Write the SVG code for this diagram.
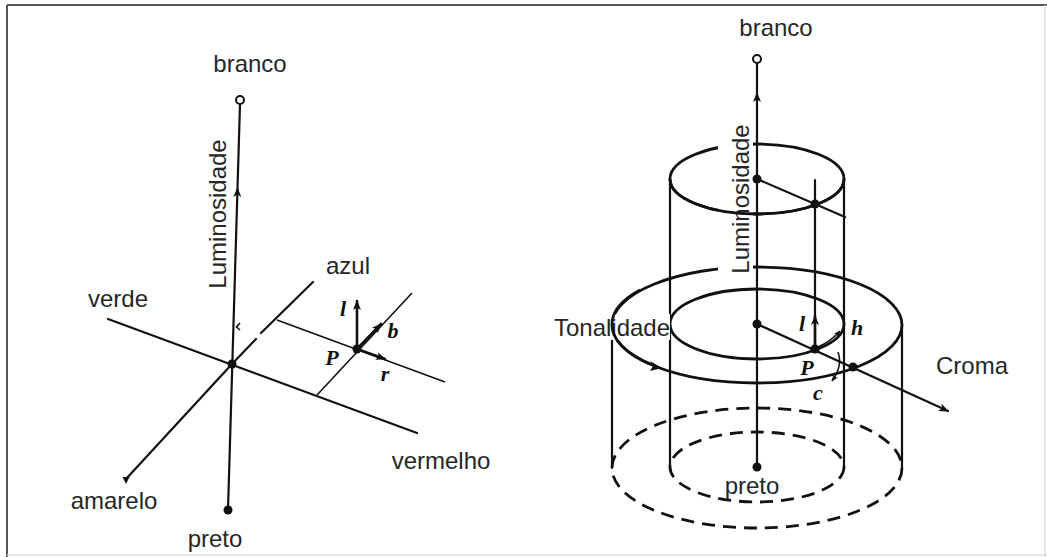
<svg xmlns="http://www.w3.org/2000/svg" width="1047" height="557" viewBox="0 0 1047 557">
<defs>
<style>
.ln{fill:none;stroke:#111;stroke-width:2.2;stroke-linecap:round}
.el{fill:none;stroke:#111;stroke-width:2.8}
.ds{fill:none;stroke:#111;stroke-width:2.8;stroke-dasharray:13 8}
.th{fill:none;stroke:#111;stroke-width:1.6}
.ar{fill:none;stroke:#111;stroke-width:2.6;stroke-linecap:round}
.dot{fill:#111}
.t{font-family:"Liberation Sans",Arial,sans-serif;font-size:24px;fill:#262626}
.v{font-family:"Liberation Serif","Times New Roman",serif;font-style:italic;font-weight:bold;font-size:22px;fill:#111}
</style>
<marker id="ah" viewBox="0 0 10 8" refX="5" refY="4" markerWidth="10" markerHeight="8" markerUnits="userSpaceOnUse" orient="auto"><path d="M0,0 L10,4 L0,8 L2.5,4 Z" fill="#111"/></marker>
<marker id="ae" viewBox="0 0 10 8" refX="9" refY="4" markerWidth="10" markerHeight="8" markerUnits="userSpaceOnUse" orient="auto"><path d="M0,0 L10,4 L0,8 L2.5,4 Z" fill="#111"/></marker>
<marker id="as" viewBox="0 0 10 8" refX="9" refY="4" markerWidth="7" markerHeight="6" markerUnits="userSpaceOnUse" orient="auto"><path d="M0,0 L10,4 L0,8 L2.5,4 Z" fill="#111"/></marker>
</defs>
<rect width="1047" height="557" fill="#fff"/>
<g id="frame">
<line x1="7" y1="5" x2="1047" y2="5" stroke="#555" stroke-width="2"/>
<line x1="7" y1="5" x2="7" y2="557" stroke="#555" stroke-width="2"/>
<line x1="1045" y1="5" x2="1045" y2="557" stroke="#ddd" stroke-width="1.5"/>
<line x1="7" y1="555" x2="1047" y2="555" stroke="#ddd" stroke-width="1.5"/>
</g>

<g id="left-connectors">
<path class="ln" d="M228,510 L237.4,192 L240,104" marker-mid="url(#ah)"/>
<line class="ln" x1="108" y1="319" x2="417" y2="433"/>
<path class="ln" d="M232,364 L256,339 M261,333 L313,282"/>
<line class="ln" x1="232" y1="364" x2="126" y2="479"/>
<path d="M122.5,477 L129.5,477 L126,484 Z" class="dot"/>
<line class="th" x1="277" y1="320" x2="445" y2="382"/>
<line class="th" x1="317" y1="395" x2="412" y2="293"/>
<path class="th" d="M240,323 L236.5,327 L240,330"/>
<line class="ar" x1="357" y1="349" x2="357" y2="301" marker-end="url(#ae)"/>
<line class="ar" x1="357" y1="349" x2="381" y2="324" marker-end="url(#ae)"/>
<line class="ar" x1="357" y1="349" x2="385" y2="359" marker-end="url(#ae)"/>
</g>
<g id="left-points">
<circle cx="240" cy="100" r="4" fill="#fff" stroke="#111" stroke-width="2"/>
<circle class="dot" cx="232" cy="364" r="4.5"/>
<circle class="dot" cx="228" cy="510" r="4.5"/>
<circle class="dot" cx="357" cy="349" r="4.5"/>
</g>
<g id="left-labels">
<text class="t" x="250" y="63" text-anchor="middle" dominant-baseline="central">branco</text>
<text class="t" transform="translate(217,214) rotate(-90)" text-anchor="middle" dominant-baseline="central">Luminosidade</text>
<text class="t" x="118" y="298" text-anchor="middle" dominant-baseline="central">verde</text>
<text class="t" x="348" y="265" text-anchor="middle" dominant-baseline="central">azul</text>
<text class="t" x="441" y="460" text-anchor="middle" dominant-baseline="central">vermelho</text>
<text class="t" x="114" y="500" text-anchor="middle" dominant-baseline="central">amarelo</text>
<text class="t" x="215" y="538" text-anchor="middle" dominant-baseline="central">preto</text>
<text class="v" x="332" y="357" text-anchor="middle" dominant-baseline="central">P</text>
<text class="v" x="343" y="308" text-anchor="middle" dominant-baseline="central">l</text>
<text class="v" x="393" y="330" text-anchor="middle" dominant-baseline="central">b</text>
<text class="v" x="385" y="373" text-anchor="middle" dominant-baseline="central">r</text>
</g>

<g id="right-cylinders">
<ellipse class="ds" cx="757" cy="468" rx="145" ry="60"/>
<ellipse class="ds" cx="757" cy="467" rx="87" ry="35"/>
<line class="ln" x1="612" y1="325" x2="612" y2="468"/>
<line class="ln" x1="902" y1="325" x2="902" y2="468"/>
<line class="ln" x1="670" y1="179" x2="670" y2="467"/>
<line class="ln" x1="844" y1="179" x2="844" y2="467"/>
<ellipse class="el" cx="757" cy="324" rx="87" ry="35"/>
<ellipse class="el" cx="757" cy="325" rx="145" ry="58"/>
<ellipse class="el" cx="757" cy="179" rx="87" ry="35"/>
</g>
<g id="right-masks">
<rect x="718" y="118" width="35" height="163" fill="#fff"/>
<rect x="551" y="314" width="119" height="26" fill="#fff"/>
</g>
<g id="right-labels">
<text class="t" x="776" y="27" text-anchor="middle" dominant-baseline="central">branco</text>
<text class="t" transform="translate(740,199) rotate(-90)" text-anchor="middle" dominant-baseline="central">Luminosidade</text>
<text class="t" x="612" y="327" text-anchor="middle" dominant-baseline="central">Tonalidade</text>
<text class="t" x="752" y="485" text-anchor="middle" dominant-baseline="central">preto</text>
<text class="t" x="972" y="365" text-anchor="middle" dominant-baseline="central">Croma</text>
<text class="v" x="807" y="367" text-anchor="middle" dominant-baseline="central">P</text>
<text class="v" x="802" y="323" text-anchor="middle" dominant-baseline="central">l</text>
<text class="v" x="857" y="327" text-anchor="middle" dominant-baseline="central">h</text>
<text class="v" x="818" y="392" text-anchor="middle" dominant-baseline="central">c</text>
</g>
<g id="right-connectors">
<path class="el" d="M670,179 A87,35 0 0 0 844,179"/>
<path class="el" d="M612,325 A145,58 0 0 0 650,364"/>
<path class="el" d="M612,325 A145,58 0 0 1 640,290"/>
<path class="ln" d="M757,467 L757,97 L757,63" marker-mid="url(#ah)"/>
<line class="ln" x1="757" y1="179" x2="845" y2="217"/>
<line class="ln" x1="815" y1="180" x2="815" y2="350"/>
<line class="ar" x1="815" y1="349" x2="815" y2="316" marker-end="url(#ae)"/>
<line class="ln" x1="757" y1="324" x2="948" y2="411" marker-end="url(#ae)"/>
<path class="th" d="M818,347 Q830,342 840,331" marker-end="url(#as)"/>
<path class="th" d="M838,352 Q843,366 832,381" marker-end="url(#as)"/>
<path d="M650,361 L662,368 L650,371 L653,366 Z" class="dot"/>
</g>
<g id="right-points">
<circle cx="757" cy="59" r="4" fill="#fff" stroke="#111" stroke-width="2"/>
<circle class="dot" cx="757" cy="179" r="4.5"/>
<circle class="dot" cx="815" cy="204" r="4.5"/>
<circle class="dot" cx="757" cy="324" r="4.5"/>
<circle class="dot" cx="815" cy="349" r="4.5"/>
<circle class="dot" cx="853" cy="367" r="4.5"/>
<circle class="dot" cx="757" cy="467" r="4.5"/>
</g>
</svg>
